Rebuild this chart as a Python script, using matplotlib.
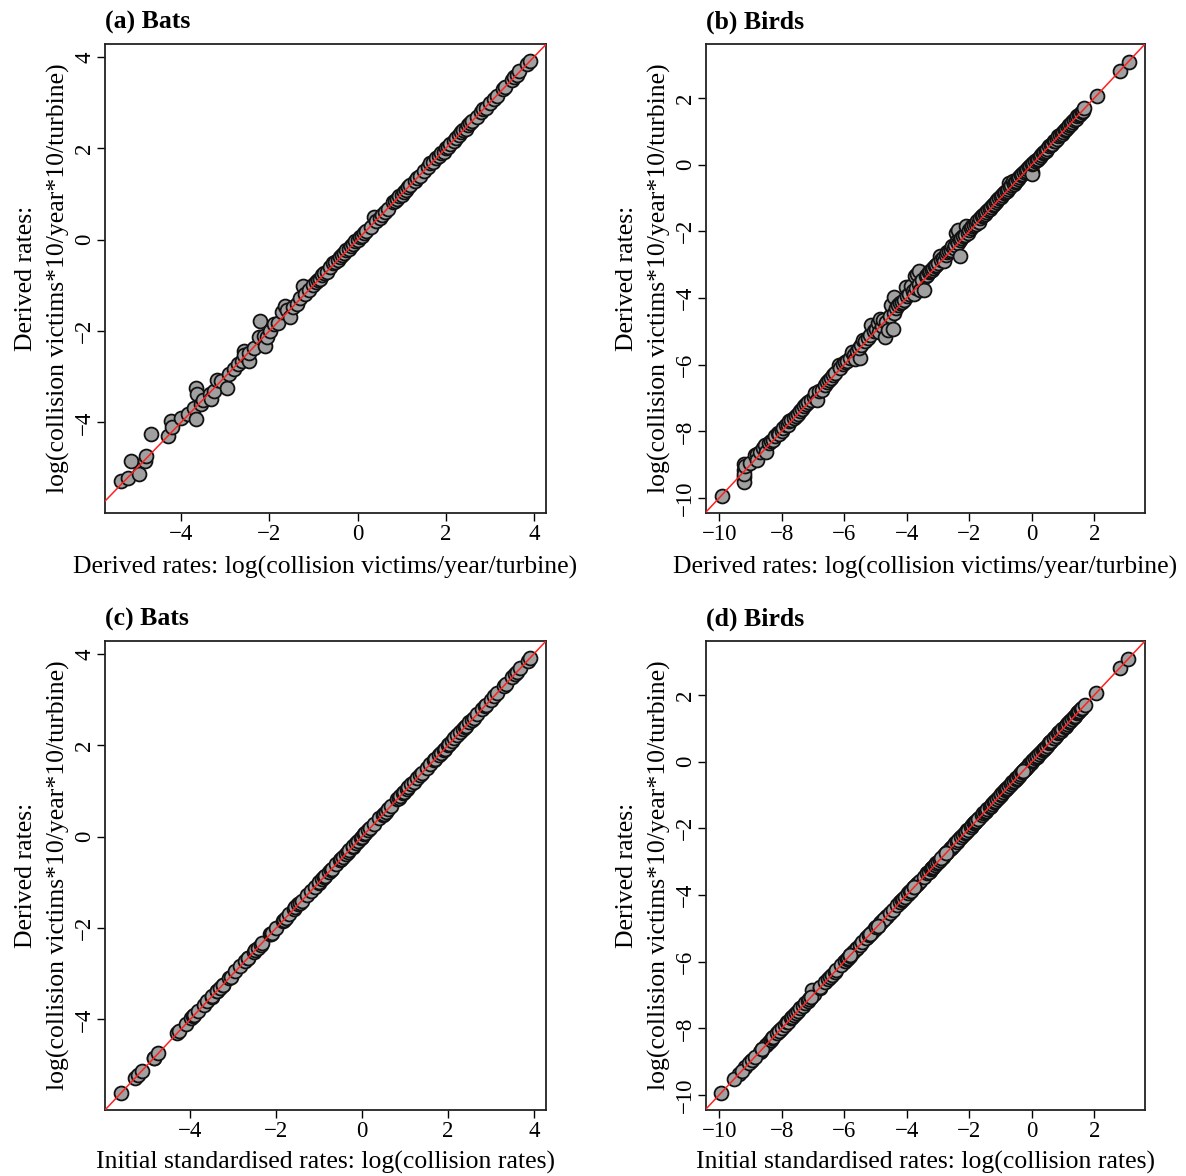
import matplotlib
matplotlib.use("Agg")
import matplotlib.pyplot as plt

plt.rcParams['font.family'] = ['Liberation Serif', 'DejaVu Serif']
plt.rcParams['axes.unicode_minus'] = True

# ---------------- Bats ----------------
# panel (a): x = log(victims/year/turbine), y = log(victims*10/year*10/turbine)
bats_year = [-5.35, -5.20, -5.12, -4.94, -4.82, -4.79, -4.67, -4.30, -4.22, -4.20,
             -4.00, -3.85, -3.70, -3.66, -3.66, -3.64, -3.55, -3.50, -3.35, -3.33,
             -3.25, -3.18, -3.10, -2.95, -2.91, -2.80, -2.70, -2.62, -2.58, -2.56,
             -2.46, -2.45, -2.35, -2.24, -2.20, -2.11, -2.09, -2.05, -1.98, -1.90,
             -1.80, -1.71, -1.64, -1.60, -1.53, -1.45, -1.38, -1.30, -1.23, -1.20,
             -1.10, -1.00, -0.95, -0.90, -0.85, -0.80, -0.75, -0.70, -0.62, -0.55,
             -0.50, -0.45, -0.40, -0.35, -0.30, -0.25, -0.20, -0.15, -0.10, -0.05,
             0.00, 0.05, 0.10, 0.15, 0.20, 0.30, 0.38, 0.42, 0.50, 0.55,
             0.62, 0.70, 0.80, 0.85, 0.90, 0.95, 1.00, 1.05, 1.10, 1.15,
             1.20, 1.30, 1.35, 1.42, 1.50, 1.60, 1.65, 1.72, 1.78, 1.85,
             1.90, 1.95, 2.00, 2.05, 2.10, 2.18, 2.22, 2.30, 2.35, 2.40,
             2.45, 2.50, 2.55, 2.60, 2.70, 2.80, 2.85, 2.90, 3.00, 3.10,
             3.15, 3.30, 3.35, 3.50, 3.55, 3.62, 3.65, 3.85, 3.90]
bats_derived = [-5.28, -5.21, -4.85, -5.12, -4.85, -4.74, -4.26, -4.30, -3.97, -4.10,
                -3.90, -3.82, -3.68, -3.93, -3.24, -3.38, -3.60, -3.50, -3.38, -3.49,
                -3.31, -3.06, -3.10, -3.24, -2.95, -2.84, -2.72, -2.65, -2.43, -2.52,
                -2.65, -2.48, -2.36, -2.14, -1.78, -2.10, -2.32, -2.12, -2.00, -1.85,
                -1.82, -1.59, -1.45, -1.55, -1.70, -1.48, -1.40, -1.28, -1.01, -1.18,
                -1.10, -1.00, -0.93, -0.88, -0.85, -0.78, -0.72, -0.70, -0.60, -0.52,
                -0.48, -0.45, -0.38, -0.33, -0.30, -0.22, -0.20, -0.13, -0.10, -0.03,
                0.00, 0.05, 0.08, 0.15, 0.18, 0.28, 0.50, 0.40, 0.48, 0.55,
                0.60, 0.68, 0.82, 0.85, 0.88, 0.95, 0.98, 1.05, 1.08, 1.15,
                1.20, 1.28, 1.35, 1.40, 1.50, 1.58, 1.68, 1.70, 1.78, 1.83,
                1.90, 1.92, 2.00, 2.02, 2.10, 2.15, 2.22, 2.28, 2.35, 2.40,
                2.42, 2.50, 2.55, 2.60, 2.68, 2.80, 2.85, 2.88, 3.00, 3.08,
                3.15, 3.30, 3.35, 3.50, 3.55, 3.60, 3.68, 3.85, 3.90]

# panel (c): x = initial standardised rate, y = derived rate (points on identity line)
bats_initial = [-5.60, -5.28, -5.21, -5.12, -4.85, -4.85, -4.74, -4.30, -4.26, -4.10,
                -3.97, -3.93, -3.90, -3.82, -3.68, -3.60, -3.50, -3.49, -3.38, -3.38,
                -3.31, -3.24, -3.24, -3.10, -3.06, -2.95, -2.84, -2.72, -2.65, -2.65,
                -2.52, -2.48, -2.43, -2.36, -2.32, -2.14, -2.12, -2.10, -2.00, -1.85,
                -1.82, -1.78, -1.70, -1.59, -1.55, -1.48, -1.45, -1.40, -1.28, -1.18,
                -1.10, -1.01, -1.00, -0.93, -0.88, -0.85, -0.78, -0.72, -0.70, -0.60,
                -0.52, -0.48, -0.45, -0.38, -0.33, -0.30, -0.22, -0.20, -0.13, -0.10,
                -0.03, 0.00, 0.05, 0.08, 0.15, 0.18, 0.28, 0.40, 0.48, 0.50,
                0.55, 0.60, 0.68, 0.82, 0.85, 0.88, 0.95, 0.98, 1.05, 1.08,
                1.15, 1.20, 1.28, 1.35, 1.40, 1.50, 1.58, 1.68, 1.70, 1.78,
                1.83, 1.90, 1.92, 2.00, 2.02, 2.10, 2.15, 2.22, 2.28, 2.35,
                2.40, 2.42, 2.50, 2.55, 2.60, 2.68, 2.80, 2.85, 2.88, 3.00,
                3.08, 3.15, 3.30, 3.35, 3.50, 3.55, 3.60, 3.68, 3.85, 3.90]
bats_derived_c = [-5.60, -5.28, -5.21, -5.12, -4.85, -4.85, -4.74, -4.30, -4.26, -4.10,
                  -3.97, -3.93, -3.90, -3.82, -3.68, -3.60, -3.50, -3.49, -3.38, -3.38,
                  -3.31, -3.24, -3.24, -3.10, -3.06, -2.95, -2.84, -2.72, -2.65, -2.65,
                  -2.52, -2.48, -2.43, -2.36, -2.32, -2.14, -2.12, -2.10, -2.00, -1.85,
                  -1.82, -1.78, -1.70, -1.59, -1.55, -1.48, -1.45, -1.40, -1.28, -1.18,
                  -1.10, -1.01, -1.00, -0.93, -0.88, -0.85, -0.78, -0.72, -0.70, -0.60,
                  -0.52, -0.48, -0.45, -0.38, -0.33, -0.30, -0.22, -0.20, -0.13, -0.10,
                  -0.03, 0.00, 0.05, 0.08, 0.15, 0.18, 0.28, 0.40, 0.48, 0.50,
                  0.55, 0.60, 0.68, 0.82, 0.85, 0.88, 0.95, 0.98, 1.05, 1.08,
                  1.15, 1.20, 1.28, 1.35, 1.40, 1.50, 1.58, 1.68, 1.70, 1.78,
                  1.83, 1.90, 1.92, 2.00, 2.02, 2.10, 2.15, 2.22, 2.28, 2.35,
                  2.40, 2.42, 2.50, 2.55, 2.60, 2.68, 2.80, 2.85, 2.88, 3.00,
                  3.08, 3.15, 3.30, 3.35, 3.50, 3.55, 3.60, 3.68, 3.85, 3.90]

# ---------------- Birds ----------------
birds_year = [-9.90, -9.22, -9.22, -9.22, -9.22, -9.20, -9.18, -9.00, -8.85, -8.80,
              -8.78, -8.70, -8.60, -8.54, -8.50, -8.42, -8.35, -8.28, -8.20, -8.12,
              -8.07, -8.00, -7.95, -7.86, -7.80, -7.75, -7.70, -7.62, -7.55, -7.49,
              -7.42, -7.35, -7.30, -7.23, -7.15, -7.05, -6.97, -6.92, -6.86, -6.80,
              -6.70, -6.62, -6.55, -6.49, -6.42, -6.35, -6.28, -6.18, -6.12, -6.04,
              -5.97, -5.90, -5.82, -5.76, -5.70, -5.66, -5.60, -5.50, -5.52, -5.45,
              -5.39, -5.32, -5.25, -5.18, -5.13, -5.05, -4.98, -4.92, -4.87, -4.89,
              -4.80, -4.75, -4.71, -4.66, -4.61, -4.55, -4.50, -4.45, -4.42, -4.40,
              -4.35, -4.28, -4.20, -4.15, -4.10, -4.03, -3.98, -3.92, -3.86, -3.80,
              -3.77, -3.72, -3.70, -3.66, -3.61, -3.60, -3.56, -3.50, -3.44, -3.40,
              -3.35, -3.30, -3.25, -3.20, -3.15, -3.10, -3.05, -3.00, -2.95, -2.90,
              -2.85, -2.80, -2.75, -2.70, -2.65, -2.60, -2.55, -2.50, -2.45, -2.43,
              -2.40, -2.37, -2.35, -2.31, -2.30, -2.25, -2.20, -2.15, -2.11, -2.05,
              -2.00, -1.95, -1.90, -1.85, -1.80, -1.75, -1.70, -1.65, -1.60, -1.55,
              -1.50, -1.45, -1.40, -1.35, -1.30, -1.25, -1.20, -1.15, -1.10, -1.05,
              -1.00, -0.95, -0.90, -0.85, -0.80, -0.73, -0.75, -0.70, -0.65, -0.60,
              -0.58, -0.55, -0.50, -0.45, -0.40, -0.35, -0.30, -0.25, -0.20, -0.15,
              -0.10, -0.05, 0.00, 0.02, 0.00, 0.05, 0.10, 0.15, 0.20, 0.25,
              0.30, 0.35, 0.40, 0.45, 0.50, 0.55, 0.60, 0.65, 0.70, 0.75,
              0.80, 0.85, 0.90, 0.95, 1.00, 1.05, 1.10, 1.15, 1.20, 1.25,
              1.30, 1.35, 1.40, 1.45, 1.50, 1.55, 1.60, 1.65, 1.67, 2.10,
              2.82, 3.11]
birds_derived = [-9.95, -8.97, -9.17, -9.37, -9.52, -9.27, -9.05, -8.95, -8.70, -8.67,
                 -8.85, -8.62, -8.50, -8.42, -8.62, -8.35, -8.30, -8.27, -8.15, -8.05,
                 -8.07, -7.98, -7.90, -7.82, -7.80, -7.70, -7.67, -7.60, -7.55, -7.47,
                 -7.40, -7.32, -7.25, -7.17, -7.12, -7.05, -6.97, -6.84, -7.07, -6.78,
                 -6.77, -6.60, -6.52, -6.47, -6.40, -6.30, -6.25, -6.02, -6.10, -5.97,
                 -5.92, -5.88, -5.80, -5.62, -5.72, -5.82, -5.60, -5.80, -5.50, -5.42,
                 -5.27, -5.30, -5.20, -5.12, -4.82, -5.00, -4.92, -4.75, -4.62, -5.02,
                 -4.85, -4.65, -5.17, -4.72, -4.97, -4.55, -4.22, -4.92, -4.45, -3.97,
                 -4.30, -4.20, -4.15, -4.12, -4.05, -3.67, -3.95, -3.88, -3.65, -3.80,
                 -3.87, -3.34, -3.70, -3.27, -3.20, -3.58, -3.77, -3.45, -3.77, -3.35,
                 -3.30, -3.22, -3.20, -3.15, -3.10, -3.05, -3.00, -2.95, -2.75, -2.85,
                 -2.80, -2.90, -2.70, -2.62, -2.60, -2.55, -2.45, -2.50, -2.40, -2.06,
                 -2.30, -1.96, -2.35, -2.75, -2.25, -2.20, -2.15, -2.10, -1.85, -2.05,
                 -1.95, -1.90, -1.85, -1.82, -1.78, -1.70, -1.72, -1.60, -1.55, -1.50,
                 -1.48, -1.42, -1.35, -1.32, -1.28, -1.20, -1.18, -1.12, -1.05, -1.00,
                 -0.98, -0.92, -0.85, -0.82, -0.78, -0.54, -0.72, -0.68, -0.62, -0.49,
                 -0.58, -0.52, -0.48, -0.42, -0.38, -0.32, -0.28, -0.22, -0.18, -0.12,
                 -0.08, -0.03, -0.21, -0.29, 0.02, 0.05, 0.10, 0.15, 0.18, 0.22,
                 0.30, 0.35, 0.38, 0.42, 0.48, 0.55, 0.58, 0.62, 0.70, 0.72,
                 0.78, 0.85, 0.88, 0.92, 0.98, 1.05, 1.08, 1.12, 1.18, 1.22,
                 1.28, 1.35, 1.38, 1.45, 1.48, 1.52, 1.58, 1.62, 1.70, 2.05,
                 2.82, 3.07]

# panel (d): points on the identity line except one at (-7.02, -6.84)
birds_initial = [-9.95, -8.97, -9.17, -9.37, -9.52, -9.27, -9.05, -8.95, -8.70, -8.67,
                 -8.85, -8.62, -8.50, -8.42, -8.62, -8.35, -8.30, -8.27, -8.15, -8.05,
                 -8.07, -7.98, -7.90, -7.82, -7.80, -7.70, -7.67, -7.60, -7.55, -7.47,
                 -7.40, -7.32, -7.25, -7.17, -7.12, -7.05, -6.97, -7.02, -7.07, -6.78,
                 -6.77, -6.60, -6.52, -6.47, -6.40, -6.30, -6.25, -6.02, -6.10, -5.97,
                 -5.92, -5.88, -5.80, -5.62, -5.72, -5.82, -5.60, -5.80, -5.50, -5.42,
                 -5.27, -5.30, -5.20, -5.12, -4.82, -5.00, -4.92, -4.75, -4.62, -5.02,
                 -4.85, -4.65, -5.17, -4.72, -4.97, -4.55, -4.22, -4.92, -4.45, -3.97,
                 -4.30, -4.20, -4.15, -4.12, -4.05, -3.67, -3.95, -3.88, -3.65, -3.80,
                 -3.87, -3.34, -3.70, -3.27, -3.20, -3.58, -3.77, -3.45, -3.77, -3.35,
                 -3.30, -3.22, -3.20, -3.15, -3.10, -3.05, -3.00, -2.95, -2.75, -2.85,
                 -2.80, -2.90, -2.70, -2.62, -2.60, -2.55, -2.45, -2.50, -2.40, -2.06,
                 -2.30, -1.96, -2.35, -2.75, -2.25, -2.20, -2.15, -2.10, -1.85, -2.05,
                 -1.95, -1.90, -1.85, -1.82, -1.78, -1.70, -1.72, -1.60, -1.55, -1.50,
                 -1.48, -1.42, -1.35, -1.32, -1.28, -1.20, -1.18, -1.12, -1.05, -1.00,
                 -0.98, -0.92, -0.85, -0.82, -0.78, -0.54, -0.72, -0.68, -0.62, -0.49,
                 -0.58, -0.52, -0.48, -0.42, -0.38, -0.32, -0.28, -0.22, -0.18, -0.12,
                 -0.08, -0.03, -0.21, -0.29, 0.02, 0.05, 0.10, 0.15, 0.18, 0.22,
                 0.30, 0.35, 0.38, 0.42, 0.48, 0.55, 0.58, 0.62, 0.70, 0.72,
                 0.78, 0.85, 0.88, 0.92, 0.98, 1.05, 1.08, 1.12, 1.18, 1.22,
                 1.28, 1.35, 1.38, 1.45, 1.48, 1.52, 1.58, 1.62, 1.70, 2.05,
                 2.82, 3.07]

titles = ["(a) Bats", "(b) Birds", "(c) Bats", "(d) Birds"]
xlabels = ["Derived rates: log(collision victims/year/turbine)",
           "Derived rates: log(collision victims/year/turbine)",
           "Initial standardised rates: log(collision rates)",
           "Initial standardised rates: log(collision rates)"]
ylabel = "Derived rates:\nlog(collision victims*10/year*10/turbine)"
bats_ticks = [-4, -2, 0, 2, 4]
birds_ticks = [-10, -8, -6, -4, -2, 0, 2]

W, H = 1186, 1176
fig = plt.figure(figsize=(W / 100, H / 100), dpi=100)

boxes = [(105, 44, 546, 513), (706, 44, 1145, 513),
         (105, 641, 546, 1110), (706, 641, 1145, 1110)]
panels = [
    (bats_year, bats_derived, (-5.72, 4.27), (-5.98, 4.28), bats_ticks),
    (birds_year, birds_derived, (-10.42, 3.62), (-10.45, 3.62), birds_ticks),
    (bats_initial, bats_derived_c, (-5.98, 4.28), (-5.98, 4.28), bats_ticks),
    (birds_initial, birds_derived, (-10.42, 3.62), (-10.45, 3.62), birds_ticks),
]

for i, ((l, t, r, b), (xs, ys, xl, yl, ticks)) in enumerate(zip(boxes, panels)):
    ax = fig.add_axes([l / W, 1 - b / H, (r - l) / W, (b - t) / H])
    ax.scatter(xs, ys, s=100, facecolor='#a0a0a0', edgecolor='#111111',
               linewidths=1.3, zorder=2)
    ax.axline((0, 0), slope=1, color='#ff2020', lw=1.1, zorder=3)
    ax.set_xlim(*xl)
    ax.set_ylim(*yl)
    ax.set_xticks(ticks)
    ax.set_yticks(ticks)
    ax.tick_params(direction='out', length=6, width=1, labelsize=16.5)
    ax.tick_params(axis='x', pad=2)
    ax.tick_params(axis='y', pad=1)
    for lab in ax.get_yticklabels():
        lab.set_rotation(90)
        lab.set_va('center')
    for sp in ax.spines.values():
        sp.set_linewidth(1.3)
        sp.set_color('#222222')
    ax.set_xlabel(xlabels[i], fontsize=18.5, labelpad=8 if i < 2 else 6)
    ax.set_ylabel(ylabel, fontsize=18.5, labelpad=3, linespacing=1.55)
    ax.text(0.0, 1.022, titles[i], transform=ax.transAxes, fontsize=18.5,
            fontweight='bold', ha='left', va='bottom')

fig.savefig("out.png", dpi=100)
